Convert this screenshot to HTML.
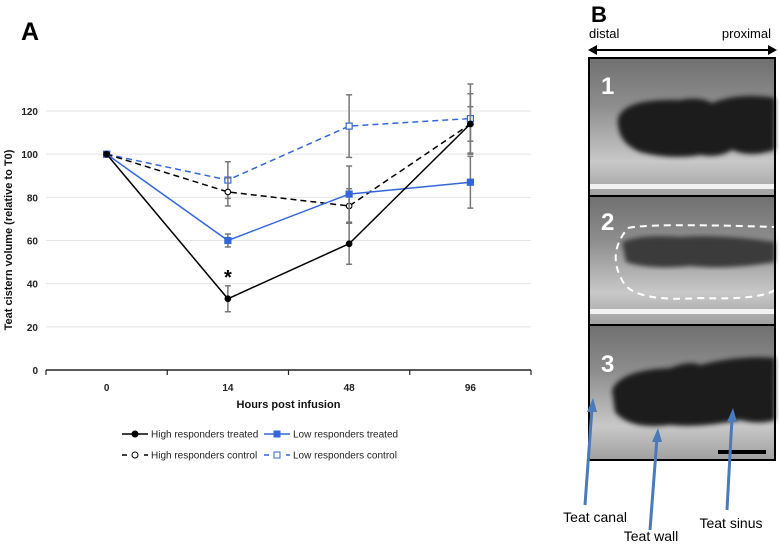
<!DOCTYPE html>
<html><head><meta charset="utf-8"><style>
html,body{margin:0;padding:0;background:#fff;width:779px;height:545px;overflow:hidden;font-family:"Liberation Sans",sans-serif}
</style></head><body>
<svg id="fig" width="779" height="545" viewBox="0 0 779 545" xmlns="http://www.w3.org/2000/svg">
<defs>
<linearGradient id="us" x1="0" y1="0" x2="0" y2="1">
<stop offset="0" stop-color="#707070"/><stop offset="0.35" stop-color="#8e8e8e"/><stop offset="0.75" stop-color="#c8c8c8"/><stop offset="1" stop-color="#a0a0a0"/>
</linearGradient>
<filter id="blur"><feGaussianBlur stdDeviation="2.5"/></filter>
</defs>
<text x="21" y="40" font-size="25" font-weight="bold" font-family="Liberation Sans, sans-serif">A</text>
<g id="chart"></g>

<g>
<text x="591" y="22" font-size="22" font-weight="bold">B</text>
<text x="589" y="38" font-size="13">distal</text>
<text x="771" y="38" font-size="13" text-anchor="end">proximal</text>
<g>
<line x1="592" y1="50" x2="773" y2="50" stroke="#000" stroke-width="2"/>
<polygon points="588,50 597,45 597,55" fill="#000"/><polygon points="777,50 768,45 768,55" fill="#000"/>
</g>
<g>
<rect x="589" y="58" width="186" height="138" fill="url(#us)"/>
<path d="M618 118 Q625 98 680 100 Q700 96 712 103 Q740 92 775 98 L775 150 Q750 158 732 150 Q720 158 700 155 Q670 160 640 152 Q616 142 618 118Z" fill="#1e1e1e" filter="url(#blur)"/>
<rect x="589" y="184" width="186" height="5" fill="#f2f2f2"/>
<text x="601" y="94" font-size="24" font-weight="bold" fill="#fff">1</text>
</g>
<g>
<rect x="589" y="196" width="186" height="129" fill="url(#us)"/>
<path d="M622 242 Q640 234 680 237 Q720 234 775 242 L775 262 Q730 270 690 266 Q650 270 626 262Z" fill="#3a3a3a" filter="url(#blur)"/>
<path d="M628 228 Q650 223 775 227 M775 290 Q760 300 700 298 Q640 302 625 285 Q605 255 628 228" fill="none" stroke="#fff" stroke-width="2" stroke-dasharray="7,5"/>
<rect x="589" y="309" width="186" height="5" fill="#f2f2f2"/>
<text x="601" y="230" font-size="24" font-weight="bold" fill="#fff">2</text>
</g>
<g>
<rect x="589" y="325" width="186" height="135" fill="url(#us)"/>
<path d="M612 390 Q620 370 670 368 Q690 360 700 365 Q740 355 775 358 L775 420 Q760 425 740 420 Q700 428 670 425 Q630 430 615 412Z" fill="#1e1e1e" filter="url(#blur)"/>
<text x="601" y="372" font-size="24" font-weight="bold" fill="#fff">3</text>
<rect x="718" y="450" width="48" height="4" fill="#000"/>
</g>
<rect x="589" y="58" width="186" height="402" fill="none" stroke="#000" stroke-width="2"/>
<line x1="589" y1="196" x2="775" y2="196" stroke="#000" stroke-width="2"/>
<line x1="589" y1="325" x2="775" y2="325" stroke="#000" stroke-width="2"/>
<g stroke="#4a7ab8" stroke-width="3" fill="#4a7ab8">
<line x1="585" y1="505" x2="592" y2="408"/><polygon points="593,398 587,412 597,412" stroke="none"/>
<line x1="650" y1="530" x2="657" y2="438"/><polygon points="658,428 652,442 662,442" stroke="none"/>
<line x1="727" y1="510" x2="732" y2="418"/><polygon points="733,408 727,422 737,422" stroke="none"/>
</g>
<text x="627" y="522" font-size="14" text-anchor="end">Teat canal</text>
<text x="651" y="541" font-size="14" text-anchor="middle">Teat wall</text>
<text x="731" y="528" font-size="14" text-anchor="middle">Teat sinus</text>
</g>
</svg>
<script>
const categories = ["0","14","48","96"];
const yTicks = [0,20,40,60,80,100,120];
const highTreated = [100,33,58.5,114];
const highTreatedErr = [0,6,9.5,14];
const lowTreated = [100,60,81.5,87];
const lowTreatedErr = [0,3,13,12];
const highControl = [100,82.5,76,114];
const highControlErr = [0,6.5,8,8];
const lowControl = [100,88,113,116.5];
const lowControlErr = [0,8.5,14.5,16];

const NS="http://www.w3.org/2000/svg";
const g=document.getElementById('chart');
const x0=46,x1=531,yBase=370,yTop=111;
const band=(x1-x0)/categories.length;
const xs=i=>x0+band*(i+0.5);
const ys=v=>yBase-(v/120)*(yBase-yTop);
function mk(t,a,p){const e=document.createElementNS(NS,t);for(const k in a)e.setAttribute(k,a[k]);(p||g).appendChild(e);return e;}

yTicks.forEach(v=>{
  if(v>0){const l=mk('line',{x1:x0,x2:x1,y1:ys(v),y2:ys(v),stroke:'#e4e4e4','stroke-width':1});
  
  }
  const t=mk('text',{x:x0-8,y:ys(v)+4,'font-size':10,'font-weight':'bold','text-anchor':'end',fill:'#222'});
  t.textContent=v;
  
  
});
const ax=mk('line',{x1:x0,x2:x1,y1:yBase,y2:yBase,stroke:'#222','stroke-width':1.5});


for(let i=0;i<=categories.length;i++){
  const tk=mk('line',{x1:x0+band*i,x2:x0+band*i,y1:yBase,y2:yBase+5,stroke:'#222','stroke-width':1.2});
  
  
}
categories.forEach((c,i)=>{
  const t=mk('text',{x:xs(i),y:yBase+21,'font-size':10,'font-weight':'bold','text-anchor':'middle',fill:'#222'});
  t.textContent=c;
  
  
});
const xt=mk('text',{x:(x0+x1)/2,y:408,'font-size':11,'font-weight':'bold','text-anchor':'middle',fill:'#111'});
xt.textContent='Hours post infusion';


const yt=mk('text',{x:0,y:0,'font-size':11,'font-weight':'bold','text-anchor':'middle',fill:'#111',transform:'translate(12,240) rotate(-90)'});
yt.textContent='Teat cistern volume (relative to T0)';



const series=[
 {name:'low-responders-control',vals:lowControl,err:lowControlErr,color:'#3366dd',dash:'6,4',marker:'sq',fill:'#fff'},
 {name:'high-responders-control',vals:highControl,err:highControlErr,color:'#000',dash:'6,4',marker:'ci',fill:'#fff'},
 {name:'low-responders-treated',vals:lowTreated,err:lowTreatedErr,color:'#3366dd',dash:'',marker:'sq',fill:'#3366dd'},
 {name:'high-responders-treated',vals:highTreated,err:highTreatedErr,color:'#000',dash:'',marker:'ci',fill:'#000'}
];
series.forEach(s=>{
  const grp=mk('g',{});
  
  
  s.vals.forEach((v,i)=>{ if(s.err[i]>0){
    const e=s.err[i];
    mk('line',{x1:xs(i),x2:xs(i),y1:ys(v+e),y2:ys(v-e),stroke:'#777','stroke-width':1.5},grp);
    mk('line',{x1:xs(i)-3,x2:xs(i)+3,y1:ys(v+e),y2:ys(v+e),stroke:'#777','stroke-width':1.5},grp);
    mk('line',{x1:xs(i)-3,x2:xs(i)+3,y1:ys(v-e),y2:ys(v-e),stroke:'#777','stroke-width':1.5},grp);
  }});
  const pl=mk('polyline',{points:s.vals.map((v,i)=>xs(i)+','+ys(v)).join(' '),fill:'none',stroke:s.color,'stroke-width':1.5,'stroke-dasharray':s.dash},grp);
  
  
  s.vals.forEach((v,i)=>{
    let m;
    if(s.marker==='sq') m=mk('rect',{x:xs(i)-3,y:ys(v)-3,width:6,height:6,fill:s.fill,stroke:s.color,'stroke-width':1.2},grp);
    else m=mk('circle',{cx:xs(i),cy:ys(v),r:2.8,fill:s.fill,stroke:s.color,'stroke-width':1.1},grp);
    
    
  });
});
const star=mk('text',{x:xs(1),y:ys(highTreated[1]+highTreatedErr[1])-2,'font-size':20,'font-weight':'bold','text-anchor':'middle'});
star.textContent='*';



const legend=[
 {label:'High responders treated',x:122,y:434,color:'#000',dash:'',marker:'ci',fill:'#000'},
 {label:'Low responders treated',x:264,y:434,color:'#3366dd',dash:'',marker:'sq',fill:'#3366dd'},
 {label:'High responders control',x:122,y:455,color:'#000',dash:'5,6',marker:'ci',fill:'#fff'},
 {label:'Low responders control',x:264,y:455,color:'#3366dd',dash:'5,6',marker:'sq',fill:'#fff'}
];
legend.forEach(l=>{
  const grp=mk('g',{});
  
  
  mk('line',{x1:l.x,x2:l.x+26,y1:l.y,y2:l.y,stroke:l.color,'stroke-width':1.5,'stroke-dasharray':l.dash},grp);
  if(l.marker==='sq') mk('rect',{x:l.x+10,y:l.y-3,width:6,height:6,fill:l.fill,stroke:l.color},grp);
  else mk('circle',{cx:l.x+13,cy:l.y,r:3,fill:l.fill,stroke:l.color},grp);
  const t=mk('text',{x:l.x+29,y:l.y+3.5,'font-size':10,fill:'#222'},grp);
  t.textContent=l.label;
});
</script>
</body></html>
